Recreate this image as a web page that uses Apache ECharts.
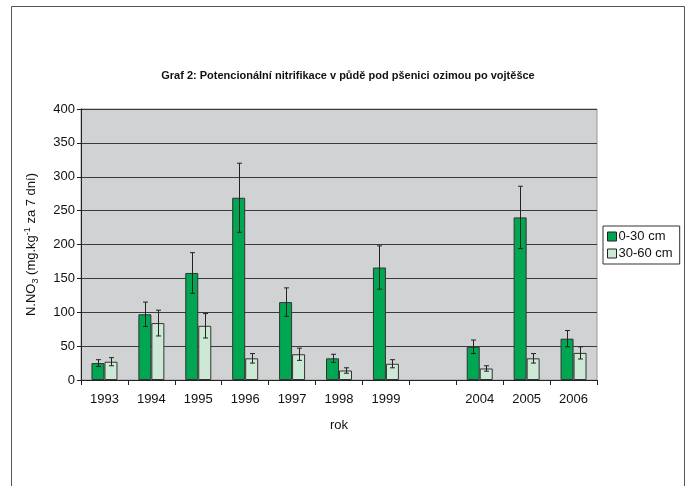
<!DOCTYPE html>
<html>
<head>
<meta charset="utf-8">
<script src="https://cdn.jsdelivr.net/npm/echarts@6/dist/echarts.min.js"></script>
<style>
  html, body { margin: 0; padding: 0; background: #fff; }
  #chart { width: 696px; height: 486px; }
</style>
</head>
<body>
<div id="chart"></div>
<script>
// categories (blank slot for the missing years 2000-2003)
const years = ['1993', '1994', '1995', '1996', '1997', '1998', '1999', '', '2004', '2005', '2006'];
// 0-30 cm
const top30 = [25, 97, 158, 269, 115, 32, 166, null, 49, 240, 61];
const top30Err = [5, 18, 30, 51, 21, 6, 32, null, 10, 46, 12];
// 30-60 cm
const deep60 = [27, 84, 80, 32, 38, 14, 24, null, 17, 32, 40];
const deep60Err = [6, 19, 18, 7, 9, 4, 6, null, 4, 7, 9];
const yTicks = [0, 50, 100, 150, 200, 250, 300, 350, 400];

const colorTop = '#00a651';
const colorDeep = '#cde8d5';
const barW = 13;
const font = 'Liberation Sans, Arial, sans-serif';

// error bar drawn around the bar centre, shifted left/right by half a bar
function errSeries(name, vals, errs, shift) {
  return {
    name: name,
    type: 'custom',
    silent: true,
    z: 5,
    data: vals.map((v, i) => v == null ? [i, null, null] : [i, v - errs[i], v + errs[i]]),
    renderItem: function (params, api) {
      if (api.value(1) == null || isNaN(api.value(1))) return;
      const lo = api.coord([api.value(0), api.value(1)]);
      const hi = api.coord([api.value(0), api.value(2)]);
      const x = Math.round(lo[0] + shift) + 0.5;
      const st = { stroke: '#222', lineWidth: 1 };
      return {
        type: 'group',
        children: [
          { type: 'line', shape: { x1: x, y1: lo[1], x2: x, y2: hi[1] }, style: st },
          { type: 'line', shape: { x1: x - 2.5, y1: lo[1], x2: x + 2.5, y2: lo[1] }, style: st },
          { type: 'line', shape: { x1: x - 2.5, y1: hi[1], x2: x + 2.5, y2: hi[1] }, style: st }
        ]
      };
    }
  };
}

const chart = echarts.init(document.getElementById('chart'));
chart.setOption({
  backgroundColor: '#fff',
  animation: false,
  textStyle: { fontFamily: font },
  graphic: [{
    type: 'rect',
    shape: { x: 11.5, y: 6.5, width: 673, height: 500 },
    style: { fill: 'none', stroke: '#555', lineWidth: 1 },
    silent: true
  }],
  title: {
    text: 'Graf 2: Potencionální nitrifikace v půdě pod pšenici ozimou po vojtěšce',
    left: 'center',
    top: 65,
    textStyle: { fontSize: 11, fontWeight: 'bold', color: '#111', fontFamily: font }
  },
  legend: {
    orient: 'vertical',
    left: 603,
    top: 226,
    padding: [4, 7, 4, 4],
    itemGap: 4,
    itemWidth: 9,
    itemHeight: 9,
    borderColor: '#333',
    borderWidth: 1,
    backgroundColor: '#fff',
    icon: 'rect',
    textStyle: { fontSize: 13, color: '#111', padding: [0, 0, 0, -3] },
    data: [
      { name: '0-30 cm', itemStyle: { color: colorTop, borderColor: '#222', borderWidth: 1 } },
      { name: '30-60 cm', itemStyle: { color: colorDeep, borderColor: '#222', borderWidth: 1 } }
    ]
  },
  grid: {
    left: 81, right: 99, top: 109, bottom: 106,
    show: true,
    backgroundColor: '#d1d2d4',
    borderColor: '#999',
    borderWidth: 1
  },
  xAxis: {
    type: 'category',
    data: years,
    name: 'rok',
    nameLocation: 'middle',
    nameGap: 39,
    nameTextStyle: { fontSize: 13, color: '#111' },
    axisLine: { lineStyle: { color: '#222' } },
    axisTick: { show: true, interval: 0, length: 5, lineStyle: { color: '#222' } },
    axisLabel: { interval: 0, fontSize: 13, color: '#111', margin: 13 }
  },
  yAxis: {
    type: 'value',
    min: 0, max: 400, interval: 50,
    name: '{a|N.NO}{sub|3}{a| (mg.kg}{sup|-1}{a| za 7 dní)}',
    nameLocation: 'middle',
    nameGap: 41,
    nameTextStyle: {
      color: '#111',
      rich: {
        a: { fontSize: 13, color: '#111', fontFamily: font },
        sub: { fontSize: 9, color: '#111', fontFamily: font, padding: [8, 0, 0, 0] },
        sup: { fontSize: 9, color: '#111', fontFamily: font, padding: [0, 0, 8, 0] }
      }
    },
    axisLine: { show: true, lineStyle: { color: '#222' } },
    axisTick: { show: true, length: 4, lineStyle: { color: '#222' } },
    axisLabel: { fontSize: 13, color: '#111', margin: 6, formatter: v => yTicks.includes(v) ? String(v) : '' },
    splitLine: { lineStyle: { color: '#3a3a3a', width: 1 } }
  },
  series: [
    {
      name: '0-30 cm', type: 'bar', data: top30, barWidth: barW, barGap: '0%',
      itemStyle: { color: colorTop, borderColor: '#333', borderWidth: 1 }
    },
    {
      name: '30-60 cm', type: 'bar', data: deep60, barWidth: barW, barGap: '0%',
      itemStyle: { color: colorDeep, borderColor: '#333', borderWidth: 1 }
    },
    errSeries('err0', top30, top30Err, -barW / 2),
    errSeries('err1', deep60, deep60Err, barW / 2)
  ]
});
</script>
</body>
</html>
